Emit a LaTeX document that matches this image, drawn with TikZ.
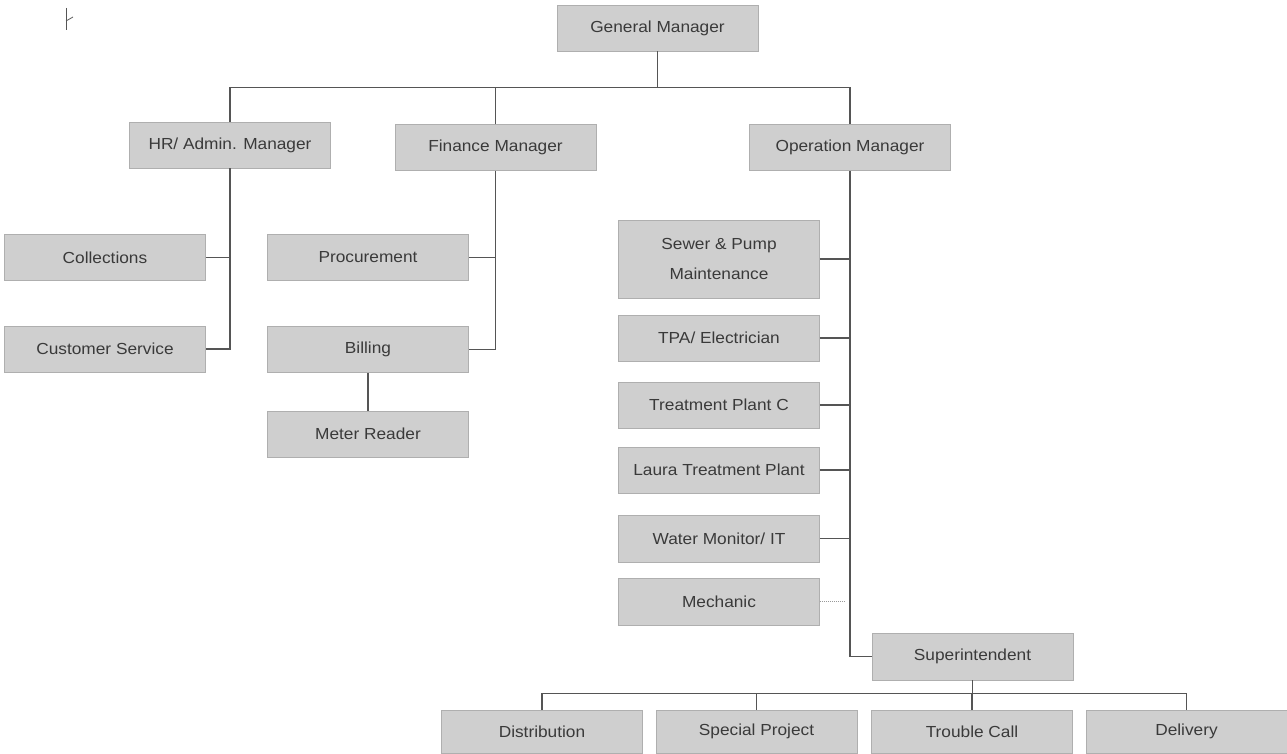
\documentclass[tikz,border=0pt]{standalone}
\usepackage{fontspec}
\setmainfont{Liberation Sans}[FakeStretch=1.08]
\definecolor{boxfill}{HTML}{CFCFCF}
\definecolor{boxline}{HTML}{AFAFAF}
\definecolor{txt}{HTML}{3A3A3A}
\definecolor{conn}{HTML}{555555}
\begin{document}
\begin{tikzpicture}[x=1pt,y=-1pt,
  orgbox/.style={draw=boxline,fill=boxfill,line width=0.8pt,inner sep=0pt,
    text=txt,font=\fontsize{16}{30}\selectfont,align=center,
    minimum width=201pt,minimum height=46pt},
  link/.style={draw=conn,line width=1.2pt},
  faint/.style={draw=conn!60,line width=1pt,densely dotted}]
\useasboundingbox[fill=white] (0,0) rectangle (1287,754);
% top-left mark
\draw[conn,line width=1pt] (66,8) -- (66,30);
\draw[conn,line width=0.8pt] (66,21) -- (73,17);
% nodes
\node[orgbox] (gm) at (657.5,28) {General Manager};
\node[orgbox] (hr) at (230,145) {HR/ Admin. Manager};
\node[orgbox] (fin) at (495.5,147.5) {Finance Manager};
\node[orgbox] (op) at (850,147.5) {Operation Manager};
\node[orgbox] (col) at (105,257.5) {Collections};
\node[orgbox] (cs) at (105,349) {Customer Service};
\node[orgbox] (proc) at (368,257.5) {Procurement};
\node[orgbox] (bill) at (368,349.5) {Billing};
\node[orgbox] (meter) at (368,434) {Meter Reader};
\node[orgbox,minimum height=78pt] (sewer) at (719,259) {Sewer \& Pump\\Maintenance};
\node[orgbox] (tpa) at (719,338) {TPA/ Electrician};
\node[orgbox] (tpc) at (719,405) {Treatment Plant C};
\node[orgbox] (laura) at (719,470) {Laura Treatment Plant};
\node[orgbox,minimum height=47pt] (water) at (719,538.5) {Water Monitor/ IT};
\node[orgbox,minimum height=47pt] (mech) at (719,601.5) {Mechanic};
\node[orgbox,minimum height=47pt] (sup) at (972.5,656.5) {Superintendent};
\node[orgbox,minimum height=43pt] (dist) at (542,731.5) {Distribution};
\node[orgbox,minimum height=43pt] (spec) at (756.5,731.5) {Special Project};
\node[orgbox,minimum height=43pt] (trouble) at (972,731.5) {Trouble Call};
\node[orgbox,minimum height=43pt] (deliv) at (1186.5,731.5) {Delivery};
% top level connectors
\draw[link] (gm.south) -- ++(0,36) coordinate (bus1);
\draw[link] (hr.north) |- (bus1) -| (op.north);
\draw[link] (fin.north) -- (fin.north |- bus1);
% HR
\draw[link] (hr.south) |- (col.east);
\draw[link] (hr.south) |- (cs.east);
% Finance
\draw[link] (fin.south) |- (proc.east);
\draw[link] (fin.south) |- (bill.east);
\draw[link] (bill.south) -- (meter.north);
% Operation
\draw[link] (op.south) |- (sup.west);
\draw[link] (sewer.east) -- (sewer.east -| op.south);
\draw[link] (tpa.east) -- (tpa.east -| op.south);
\draw[link] (tpc.east) -- (tpc.east -| op.south);
\draw[link] (laura.east) -- (laura.east -| op.south);
\draw[link] (water.east) -- (water.east -| op.south);
\draw[faint] (mech.east) -- ([xshift=-6pt]mech.east -| op.south);
% Superintendent
\draw[link] (sup.south) -- ++(0,13) coordinate (bus2);
\draw[link] (dist.north) |- (bus2) -| (deliv.north);
\draw[link] (spec.north) -- (spec.north |- bus2);
\draw[link] (trouble.north) -- (trouble.north |- bus2);
\end{tikzpicture}
\end{document}
